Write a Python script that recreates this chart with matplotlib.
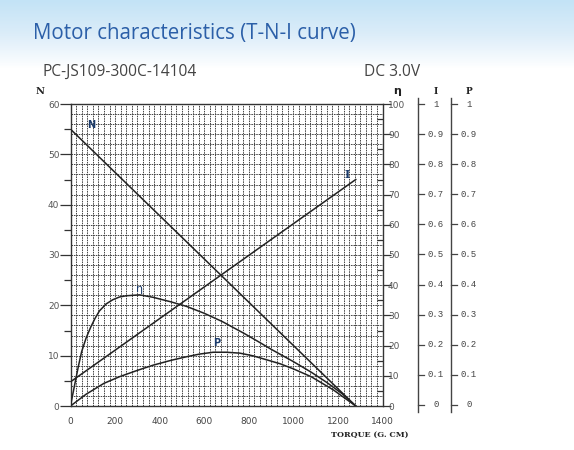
import numpy as np
import matplotlib
matplotlib.use("Agg")
import matplotlib.pyplot as plt
from matplotlib.colors import LinearSegmentedColormap

# ---------------- data ----------------
torque_ticks = [0, 200, 400, 600, 800, 1000, 1200, 1400]
n_ticks = [0, 10, 20, 30, 40, 50, 60]
eta_ticks = [0, 10, 20, 30, 40, 50, 60, 70, 80, 90, 100]
ip_ticks = [0, 0.1, 0.2, 0.3, 0.4, 0.5, 0.6, 0.7, 0.8, 0.9, 1]
ip_labels = ["0", "0.1", "0.2", "0.3", "0.4", "0.5", "0.6", "0.7", "0.8", "0.9", "1"]

# speed N (rpm)
n_torque = [0, 1280]
n_speed = [55, 0]

# current I (A)
i_torque = [0, 1280]
i_current = [0.08, 0.75]

# efficiency eta (%)
eta_torque = [0, 10, 20, 35, 50, 70, 90, 110, 130, 160, 190, 220, 250, 310, 370, 450,
              520, 600, 680, 780, 850, 900, 1000, 1080, 1150, 1220, 1280]
eta_value = [0, 3.8, 7.5, 13.0, 18.0, 22.5, 26.0, 29.0, 31.5, 33.8, 35.2, 36.1, 36.5, 36.8,
             36.0, 34.5, 33.0, 30.7, 28.0, 24.0, 21.0, 18.8, 14.7, 11.2, 7.8, 4.0, 0]

# output power P (W)
p_torque = [0, 70, 150, 220, 300, 370, 450, 520, 580, 640, 700, 760, 820, 880, 940,
            1000, 1080, 1180, 1280]
p_value = [0, 0.039, 0.075, 0.097, 0.118, 0.135, 0.151, 0.163, 0.172, 0.178, 0.178,
           0.175, 0.166, 0.153, 0.140, 0.123, 0.097, 0.053, 0]

# ---------------- figure ----------------
W, H = 574, 450
fig = plt.figure(figsize=(W / 100, H / 100), dpi=100)

# background gradient (top band light blue fading to white)
bg = fig.add_axes([0, 0, 1, 1], zorder=-10)
rows = np.clip(np.arange(H) / 68.0, 0, 1).reshape(-1, 1)
cmap = LinearSegmentedColormap.from_list("bg", ["#c3e3f6", "#dcedf9", "#ffffff"])
bg.imshow(rows, aspect="auto", cmap=cmap, extent=[0, 1, 0, 1], vmin=0, vmax=1,
          interpolation="bilinear")
bg.set_xlim(0, 1)
bg.set_ylim(0, 1)
bg.set_axis_off()

def fx(px):
    return px / W

def fy(py):
    return 1 - py / H

fig.text(fx(33), fy(33), "Motor characteristics (T-N-I curve)", fontsize=14.8,
         color="#2b5fa8", family="Open Sans", va="center", ha="left")
fig.text(fx(42), fy(72), "PC-JS109-300C-14104", fontsize=11.2, color="#444444",
         family="Open Sans", va="center", ha="left")
fig.text(fx(364), fy(72), "DC 3.0V", fontsize=11.2, color="#444444",
         family="Open Sans", va="center", ha="left")

# main axes
x0, x1 = 70.5, 382.5
y0, y1 = 406, 104
ax = fig.add_axes([fx(x0), fy(y0), (x1 - x0) / W, (y0 - y1) / H])
ax.set_xlim(0, 1400)
ax.set_ylim(0, 60)

# grid
for t in np.arange(25, 1400, 25):
    ax.axvline(t, color="#444444", lw=0.7, ls=(0, (1.6, 0.9)), zorder=1)
for v in np.arange(2, 60, 2):
    ax.axhline(v, color="#444444", lw=0.7, ls=(0, (1.6, 0.9)), zorder=1)

for s in ax.spines.values():
    s.set_color("#333333")
    s.set_linewidth(1.0)

ax.set_xticks(torque_ticks)
ax.set_xticklabels([str(t) for t in torque_ticks])
ax.tick_params(axis="x", length=0, pad=8, labelsize=6.5, labelcolor="#444444")
ax.set_yticks(n_ticks)
ax.set_yticks(np.arange(5, 60, 10), minor=True)
ax.tick_params(axis="y", which="major", length=8, width=0.9, color="#333333",
               labelsize=6.5, labelcolor="#555555", pad=0)
ax.tick_params(axis="y", which="minor", length=5, width=0.9, color="#333333")
for lab in ax.get_xticklabels() + ax.get_yticklabels():
    lab.set_family("DejaVu Sans")

# curves
lc = "#222222"
ax.plot(n_torque, n_speed, color=lc, lw=1.1, zorder=3)
ax.plot(i_torque, np.array(i_current) * 60, color=lc, lw=1.1, zorder=3)
ax.plot(eta_torque, np.array(eta_value) * 0.6, color=lc, lw=1.1, zorder=3)
ax.plot(p_torque, np.array(p_value) * 60, color=lc, lw=1.1, zorder=3)

ax.text(75, 55.2, "N", fontsize=7, fontweight="bold", color="#1a3a6a", family="DejaVu Sans", zorder=4)
ax.text(1230, 45.3, "I", fontsize=8, fontweight="bold", color="#1a3a6a", family="DejaVu Serif", zorder=4)
ax.text(295, 22.6, "η", fontsize=8, color="#1a3a6a", family="DejaVu Sans", zorder=4)
ax.text(640, 11.9, "P", fontsize=7, fontweight="bold", color="#1a3a6a", family="DejaVu Sans", zorder=4)

# eta axis on right
ax2 = ax.twinx()
ax2.set_ylim(0, 100)
ax2.set_yticks(eta_ticks)
ax2.set_yticks(np.arange(5, 100, 10), minor=True)
ax2.tick_params(axis="y", which="major", direction="out", length=6, width=0.9,
                color="#333333", labelsize=6.5, labelcolor="#555555", pad=-2)
ax2.tick_params(axis="y", which="minor", direction="in", length=4, width=0.9, color="#333333")
for s in ax2.spines.values():
    s.set_visible(False)

# extra axis labels
fig.text(fx(40), fy(92), "N", fontsize=7, fontweight="bold", family="DejaVu Serif",
         color="#222222", ha="center", va="center")
fig.text(fx(397), fy(91), "η", fontsize=8, fontweight="bold", family="DejaVu Sans",
         color="#222222", ha="center", va="center")
fig.text(fx(370), fy(435), "TORQUE (G. CM)", fontsize=5.8, fontweight="bold",
         family="DejaVu Serif", color="#222222", ha="center", va="center")

# I and P axes
for xs, name in [(418, "I"), (451, "P")]:
    a = fig.add_axes([fx(xs), fy(412), 0.02, (412 - 98) / H])
    a.set_xlim(0, 1)
    lo = -7 / 300
    a.set_ylim(lo, 1 + 6 / 300)
    for k, s in a.spines.items():
        s.set_visible(k == "left")
    a.spines["left"].set_color("#444444")
    a.spines["left"].set_linewidth(1.0)
    a.patch.set_alpha(0)
    a.set_xticks([])
    a.set_yticks(ip_ticks)
    a.tick_params(axis="y", left=False, right=False, labelleft=False)
    for t, lab in zip(ip_ticks, ip_labels):
        a.plot([0, 0.5], [t, t], color="#444444", lw=0.9, clip_on=False,
               transform=a.get_yaxis_transform())
        a.text(1.57, t, lab, fontsize=6.5, family="Liberation Mono", color="#444444",
               ha="center", va="center", transform=a.get_yaxis_transform())
    fig.text(fx(xs + 18), fy(92), name, fontsize=6.5, fontweight="bold",
             family="DejaVu Serif", color="#222222", ha="center", va="center")

fig.savefig("out.png", dpi=100)
